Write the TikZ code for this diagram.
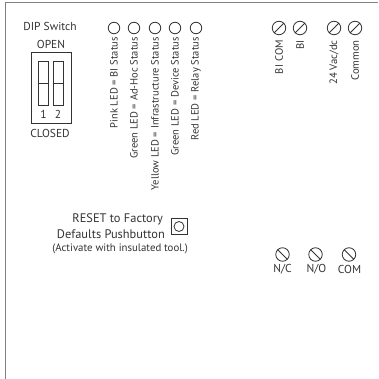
\documentclass[tikz,border=0pt]{standalone}
\usepackage{fontspec}
\setmainfont{PT Sans}
\usetikzlibrary{shapes.symbols}
\definecolor{inkgray}{gray}{0.2}
\tikzset{
  lbl/.style={text=inkgray, inner sep=0pt, font=\fontsize{11.5}{12}\selectfont},
  rstlbl/.style={lbl, anchor=east, font=\fontsize{12.4}{13}\selectfont},
  ledlbl/.style={text=inkgray, inner sep=0pt, rotate=90, anchor=east, font=\fontsize{10.5}{11}\selectfont},
  termlbl/.style={text=inkgray, inner sep=0pt, rotate=90, anchor=east, font=\fontsize{10.7}{11}\selectfont},
  led/.style={circle, draw=inkgray, line width=.8pt, minimum size=11.5pt, inner sep=0pt},
  screwa/.style={forbidden sign, draw=inkgray, line width=.8pt, minimum size=13.5pt, inner sep=0pt},
  screwb/.style={screwa, rotate=90},
  swbox/.style={draw=inkgray, line width=.7pt},
  toggle/.style={swbox, minimum width=10pt, minimum height=44pt, inner sep=0pt}
}
\begin{document}
\begin{tikzpicture}[x=1pt,y=-1pt]
\useasboundingbox (0,0) rectangle (378,379);
\draw[line width=1.8pt, gray] (378,2.5) -- (5.5,2.5) -- (5.5,379);
% dip switch
\node[lbl] (diptitle) at (50,26.5) {DIP Switch};
\node[lbl] (dipopen) at (51,44) {OPEN};
\node[lbl] (dipclosed) at (50,133) {CLOSED};
\node[swbox, minimum width=40pt, minimum height=71pt, inner sep=0pt] (dipbox) at (51,87.5) {};
\node[toggle] (sw1) at (43,83) {};
\node[toggle] (sw2) at (58,83) {};
\draw[swbox] (sw1.west) -- (sw1.east);
\draw[swbox] (sw2.west) -- (sw2.east);
\node[lbl] (num1) at (43.5,114) {1};
\node[lbl] (num2) at (58,114) {2};
% status leds
\node[led] (led1) at (114,28) {};
\node[led] (led2) at (134,28) {};
\node[led] (led3) at (155,28) {};
\node[led] (led4) at (175,28) {};
\node[led] (led5) at (196,28) {};
\node[ledlbl] (ledtxt1) at (114,37) {Pink LED = BI Status};
\node[ledlbl] (ledtxt2) at (134,37) {Green LED = Ad-Hoc Status};
\node[ledlbl] (ledtxt3) at (155,37) {Yellow LED = Infrastructure Status};
\node[ledlbl] (ledtxt4) at (175,37) {Green LED = Device Status};
\node[ledlbl] (ledtxt5) at (196,37) {Red LED = Relay Status};
% top terminals
\node[screwa] (bicom) at (279,28) {};
\node[screwa] (bi) at (300,28) {};
\node[screwa] (vac) at (334,28) {};
\node[screwa] (common) at (355,28) {};
\node[termlbl] (bicomtxt) at (279,40) {BI COM};
\node[termlbl] (bitxt) at (300,40) {BI};
\node[termlbl] (vactxt) at (334,40) {24 Vac/dc};
\node[termlbl] (commontxt) at (355,40) {Common};
% reset button
\node[rstlbl] (reset1) at (163,219) {RESET to Factory};
\node[rstlbl] (reset2) at (165,234) {Defaults Pushbutton};
\node[text=inkgray, inner sep=0pt, anchor=east, font=\fontsize{10.8}{11}\selectfont] (reset3) at (188,249) {(Activate with insulated tool.)};
\node[swbox, minimum size=16pt, inner sep=0pt] (resetbox) at (179,226.5) {};
\node[led, minimum size=10pt] (resetbtn) at (resetbox) {};
% relay terminals
\node[screwb] (nc) at (282.5,254.5) {};
\node[screwb] (no) at (315.5,254.5) {};
\node[screwb] (com) at (349,254.5) {};
\node[lbl] (nctxt) at (282.5,269.5) {N/C};
\node[lbl] (notxt) at (316.5,269.5) {N/O};
\node[lbl] (comtxt) at (349.5,269.5) {COM};
\end{tikzpicture}
\end{document}
